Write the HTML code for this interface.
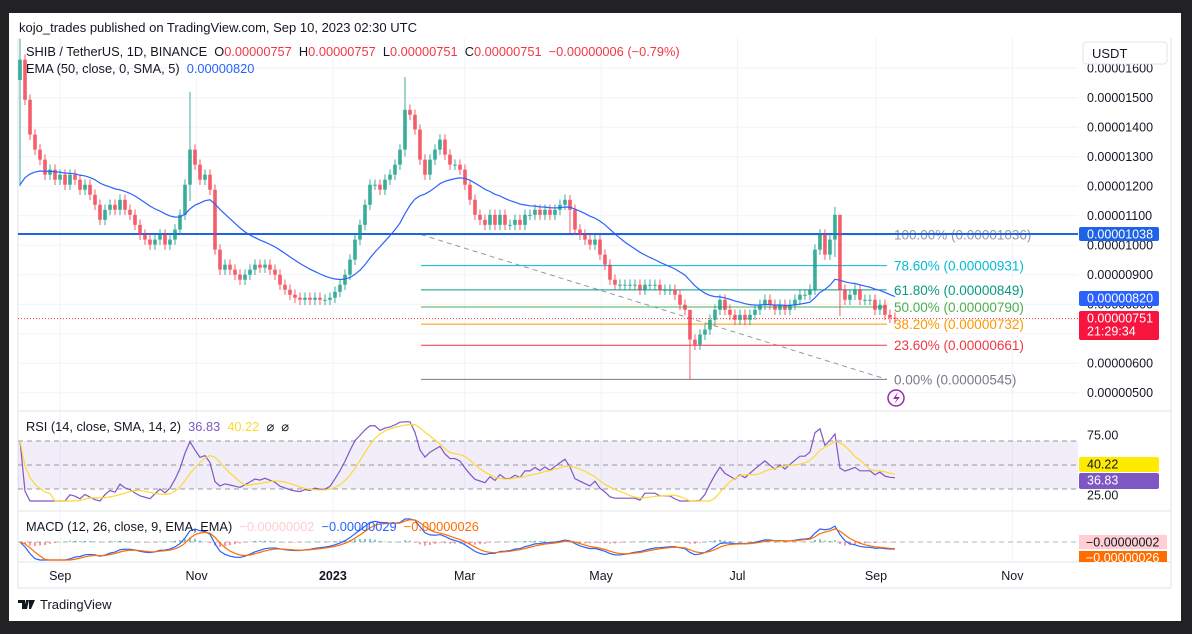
<!DOCTYPE html>
<html><head><meta charset="utf-8"><style>
html,body{margin:0;padding:0;background:#222224;}
body{width:1192px;height:634px;overflow:hidden;position:relative;font-family:"Liberation Sans",sans-serif;}
#card{position:absolute;left:9px;top:13px;width:1172px;height:608px;background:#fff;}
svg{position:absolute;left:0;top:0;}
</style></head><body>
<div id="card"></div>
<svg id="c" width="1192" height="634" font-family="Liberation Sans, sans-serif"></svg>
<script>
// ---- data (price in units of 1e-8 USDT) ----
const closes=[1629,1493,1375,1324,1290,1239,1256,1222,1239,1205,1239,1222,1188,1205,1171,1137,1086,1120,1137,1120,1154,1120,1103,1069,1036,1019,1002,1019,1036,1002,1019,1053,1103,1205,1324,1273,1222,1239,1188,985,917,934,917,900,883,900,917,934,924,934,917,900,866,849,832,822,815,822,815,822,815,815,822,842,866,900,951,1019,1069,1137,1205,1205,1188,1222,1239,1273,1324,1459,1442,1392,1290,1239,1290,1324,1358,1307,1273,1273,1256,1205,1154,1103,1086,1069,1103,1069,1103,1069,1069,1086,1069,1103,1103,1120,1103,1120,1103,1120,1137,1154,1120,1053,1036,1019,1002,1019,968,934,883,866,866,866,866,866,849,866,866,866,849,849,849,832,798,781,680,663,697,714,747,781,815,781,764,747,764,747,764,781,798,815,798,781,798,781,798,815,832,832,849,985,1036,968,1019,1103,849,815,832,849,815,815,815,781,798,764,754,751];
const spikeIdx=[0,34,77,110,134,163,164];
const spikeHigh=[1700,1520,1570,1170,700,1130,870];
const spikeLow=[1200,1150,1300,1040,545,960,760];
const emaSeed=1205;
const priceTicks=[500,600,700,800,900,1000,1100,1200,1300,1400,1500,1600];
const timeLabels=['Sep','Nov','2023','Mar','May','Jul','Sep','Nov'];
const timeDays=[18,79,140,199,260,321,383,444];
const fibLevels=[1,0.786,0.618,0.5,0.382,0.236,0];
const fibNames=['100.00%','78.60%','61.80%','50.00%','38.20%','23.60%','0.00%'];
const fibVals=['0.00001036','0.00000931','0.00000849','0.00000790','0.00000732','0.00000661','0.00000545'];
const fibHigh=1036, fibLow=545, hLine=1038, lastPrice=751;
const rsiTicks=[75,25];

// ---- scales ----
const yP=v=>97.7+(1500-v)*0.295;
const xD=d=>20+d*2.235;
const xI=i=>xD(i*2.237);
const yR=r=>465-(r-50)*1.2;
const yM=m=>542-m*0.2;

const S=document.getElementById('c');
const NS='http://www.w3.org/2000/svg';
function el(t,a,p){const e=document.createElementNS(NS,t);for(const k in a)e.setAttribute(k,a[k]);(p||S).appendChild(e);return e;}
function tx(s,x,y,fill,size,anchor,weight){const e=el('text',{x:x,y:y,fill:fill,'font-size':size||12,'text-anchor':anchor||'start','font-weight':weight||'normal'});e.textContent=s;return e;}

// grid
priceTicks.forEach(v=>{const l=el('line',{x1:18,x2:1078,y1:yP(v),y2:yP(v),stroke:'#f0f3fa'});

});
timeDays.forEach(d=>{const l=el('line',{x1:xD(d),x2:xD(d),y1:38,y2:562,stroke:'#f0f3fa'});

});
el('line',{x1:18,x2:1171,y1:411,y2:411,stroke:'#e0e3eb'});
el('line',{x1:18,x2:1171,y1:511,y2:511,stroke:'#e0e3eb'});
el('line',{x1:18,x2:1171,y1:562,y2:562,stroke:'#e0e3eb'});
el('line',{x1:18,x2:1171,y1:588,y2:588,stroke:'#e0e3eb'});
el('line',{x1:1171,x2:1171,y1:38,y2:588,stroke:'#e0e3eb'});
el('line',{x1:18,x2:18,y1:38,y2:588,stroke:'#e0e3eb'});

// fib
const fx1=421,fx2=887;
el('line',{x1:fx1,y1:yP(fibHigh),x2:fx2,y2:yP(fibLow),stroke:'#9598a1','stroke-dasharray':'5,4'});
const fibColors=['#9598a1','#00bcd4','#089981','#4caf50','#ff9800','#f23645','#787b86'];
fibLevels.forEach((f,k)=>{const v=fibLow+f*(fibHigh-fibLow);
const l=el('line',{x1:fx1,x2:fx2,y1:yP(v),y2:yP(v),stroke:fibColors[k],'stroke-width':1});


const t=tx(fibNames[k]+' ('+fibVals[k]+')',894,yP(v)+5,fibColors[k],13.5);

});
const hl=el('line',{x1:18,x2:1078,y1:yP(hLine),y2:yP(hLine),stroke:'#1e62e6','stroke-width':2});


el('line',{x1:18,x2:1078,y1:yP(lastPrice),y2:yP(lastPrice),stroke:'#f23645','stroke-dasharray':'1,2','stroke-width':1});

// candles
let prev=closes[0];
closes.forEach((c,i)=>{const o=i===0?1560:prev;prev=c;
let hi=Math.max(o,c)+18,lo=Math.min(o,c)-18;const si=spikeIdx.indexOf(i);if(si>=0){hi=spikeHigh[si];lo=spikeLow[si];}
const col=c>=o?'#089981':'#f23645';const x=xI(i);
const g=el('g',{opacity:0.8});


el('line',{x1:x,x2:x,y1:yP(hi),y2:yP(lo),stroke:col,'stroke-width':1},g);
const y1=yP(Math.max(o,c)),y2=yP(Math.min(o,c));
el('rect',{x:x-1.8,y:y1,width:3.6,height:Math.max(1,y2-y1),fill:col},g);});

// EMA
let e=emaSeed;const kE=2/(23+1);let pts=[];
closes.forEach((c,i)=>{e=i===0?emaSeed:e+(c-e)*kE;pts.push(xI(i)+','+yP(e));});
const ema=el('polyline',{points:pts.join(' '),fill:'none',stroke:'#2962ff','stroke-width':1.2});



// RSI
el('rect',{x:18,y:yR(70),width:1060,height:yR(30)-yR(70),fill:'#7e57c2','fill-opacity':0.1});
[70,50,30].forEach(r=>el('line',{x1:18,x2:1078,y1:yR(r),y2:yR(r),stroke:'#9598a1','stroke-dasharray':'5,4'}));
const P=12;let ag=8,al=8;const rsi=[];
for(let i=0;i<closes.length;i++){if(i===0){rsi.push(70);continue;}const d=closes[i]-closes[i-1];const g2=Math.max(d,0),l2=Math.max(-d,0);
ag=(ag*(P-1)+g2)/P;al=(al*(P-1)+l2)/P;
rsi.push(al===0?100:100-100/(1+ag/al));}
const rsiMa=rsi.map((r,i)=>{const s=rsi.slice(Math.max(0,i-6),i+1);return s.reduce((a,b)=>a+b,0)/s.length;});
const cl=r=>Math.max(20,Math.min(86,r));
const rl=el('polyline',{points:rsi.map((r,i)=>xI(i)+','+yR(cl(r))).join(' '),fill:'none',stroke:'#7e57c2','stroke-width':1.2});


const rm=el('polyline',{points:rsiMa.map((r,i)=>xI(i)+','+yR(cl(r))).join(' '),fill:'none',stroke:'#fdd835','stroke-width':1.2});



// MACD
function emaArr(a,n){const k=2/(n+1);let v=a[0];return a.map((x,i)=>v=i===0?x:v+(x-v)*k);}
const f5=emaArr(closes,5),s12=emaArr(closes,12);
const macd=f5.map((v,i)=>v-s12[i]);const sig=emaArr(macd,4);
el('line',{x1:18,x2:1078,y1:yM(0),y2:yM(0),stroke:'#b2b5be','stroke-dasharray':'5,4'});
macd.forEach((m,i)=>{const h=(m-sig[i])*0.6;const y=yM(Math.max(h,0)),hh=Math.abs(h)*0.2;
const b=el('rect',{x:xI(i)-1,y:y,width:2,height:Math.max(0.5,hh),fill:h>=0?'#26a69a':'#ff5252',opacity:0.6});

});
const mc=m=>Math.max(-90,Math.min(115,m));
const ml=el('polyline',{points:macd.map((m,i)=>xI(i)+','+yM(mc(m))).join(' '),fill:'none',stroke:'#2962ff','stroke-width':1.2});


const sl=el('polyline',{points:sig.map((m,i)=>xI(i)+','+yM(mc(m))).join(' '),fill:'none',stroke:'#ff6d00','stroke-width':1.2});



// price axis labels
priceTicks.forEach(v=>{const t=tx((v/1e8).toFixed(8),1087,yP(v)+4.5,'#131722',12.5);

});
const ub=el('rect',{x:1083,y:42,width:84,height:22,rx:3,fill:'#fff',stroke:'#e0e3eb'});


tx('USDT',1092,58,'#131722',13);
function box(y,h,fill,lines,col,name){const g=el('g',{});
el('rect',{x:1079,y:y,width:80,height:h,rx:2,fill:fill},g);lines.forEach((s,k)=>{const t=el('text',{x:1087,y:y+11.5+k*13,fill:col,'font-size':12.5},g);t.textContent=s;});}
box(yP(hLine)-7,14,'#1e62e6',['0.00001038'],'#fff','hline-price-label');
box(291,15,'#2962ff',['0.00000820'],'#fff','ema-price-label');
box(311,29,'#f7153f',['0.00000751','21:29:34'],'#fff','last-price-label');
rsiTicks.forEach(r=>{const t=tx(r.toFixed(2),1087,yR(r)+4.5,'#131722',12.5);

});
box(457,15,'#ffeb00',['40.22'],'#131722','rsi-ma-value-label');
box(473,16,'#7e57c2',['36.83'],'#fff','rsi-value-label');
{const g=el('g',{});
el('rect',{x:1079,y:535,width:88,height:14,fill:'#ffcdd2'},g);
el('rect',{x:1079,y:551,width:88,height:11,fill:'#ff6d00'},g);
const a=el('text',{x:1086,y:546.5,'font-size':12.5,fill:'#131722'},g);a.textContent='−0.00000002';
const b=el('text',{x:1086,y:562,'font-size':12.5,fill:'#fff'},g);b.textContent='−0.00000026';}
timeLabels.forEach((s,k)=>{const t=tx(s,xD(timeDays[k]),580,'#131722',12.5,'middle',s==='2023'?'bold':'normal');

});

// header texts
tx('kojo_trades published on TradingView.com, Sep 10, 2023 02:30 UTC',19,32,'#131722',13);
{const t=el('text',{x:26,y:56,'font-size':12.8,fill:'#131722'});
t.innerHTML='SHIB / TetherUS, 1D, BINANCE  O<tspan fill="#f23645">0.00000757</tspan>  H<tspan fill="#f23645">0.00000757</tspan>  L<tspan fill="#f23645">0.00000751</tspan>  C<tspan fill="#f23645">0.00000751</tspan>  <tspan fill="#f23645">−0.00000006 (−0.79%)</tspan>';t.style.whiteSpace='pre';}
{const t=el('text',{x:26,y:73,'font-size':12.8,fill:'#131722'});
t.innerHTML='EMA (50, close, 0, SMA, 5)  <tspan fill="#2962ff">0.00000820</tspan>';t.style.whiteSpace='pre';}
{const t=el('text',{x:26,y:431,'font-size':12.8,fill:'#131722'});
t.innerHTML='RSI (14, close, SMA, 14, 2)  <tspan fill="#7e57c2">36.83</tspan>  <tspan fill="#fdd835">40.22</tspan>  ⌀  ⌀';t.style.whiteSpace='pre';}
{const t=el('text',{x:26,y:531,'font-size':12.8,fill:'#131722'});
t.innerHTML='MACD (12, 26, close, 9, EMA, EMA)  <tspan fill="#ffcdd2">−0.00000002</tspan>  <tspan fill="#2962ff">−0.00000029</tspan>  <tspan fill="#ff6d00">−0.00000026</tspan>';t.style.whiteSpace='pre';}
{const g=el('g',{});
el('circle',{cx:896,cy:398,r:8,fill:'none',stroke:'#9c27b0','stroke-width':1.5},g);
el('path',{d:'M898 392 L893 399 L897 399 L894 404 L900 397 L896 397 Z',fill:'#9c27b0'},g);}
{const g=el('g',{});
el('path',{d:'M18 600 h7 v9 h-3 v-6 h-4 Z M26 600 h3 l-2 9 h-3 Z M29 600 h6 l-4 9 h-2 Z',fill:'#131722'},g);
const t=el('text',{x:40,y:609,'font-size':13,fill:'#131722'},g);t.textContent='TradingView';}
</script>
</body></html>
